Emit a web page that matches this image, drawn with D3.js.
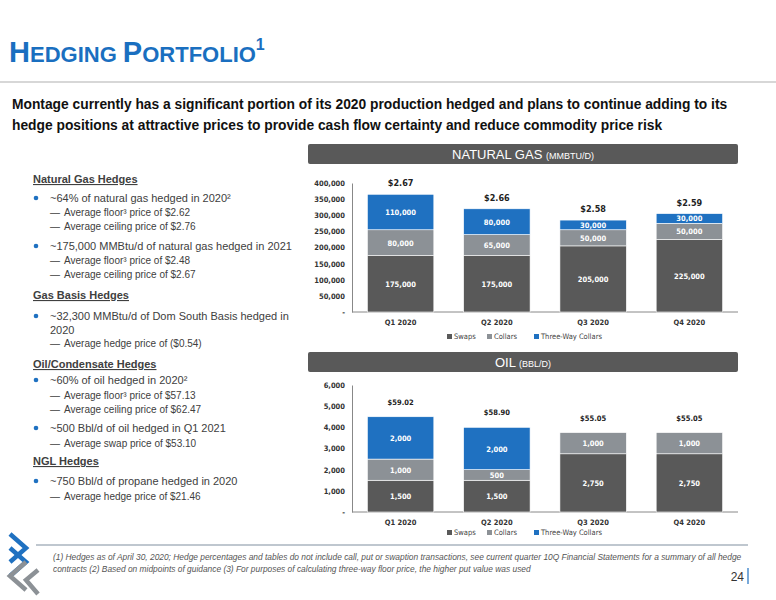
<!DOCTYPE html>
<html><head><meta charset="utf-8">
<script src="https://cdn.jsdelivr.net/npm/d3@7"></script>
<style>body{margin:0;background:#fff}svg{display:block;font-family:"Liberation Sans",Arial,sans-serif}</style>
</head><body><svg id="s" width="776" height="600"></svg>
<script>
const quarters=["Q1 2020","Q2 2020","Q3 2020","Q4 2020"];
const seriesNames=["Swaps","Collars","Three-Way Collars"];
const gasSwaps=[175000,175000,205000,225000];
const gasCollars=[80000,65000,50000,50000];
const gasThreeWay=[110000,80000,30000,30000];
const gasPrices=["$2.67","$2.66","$2.58","$2.59"];
const gasTicks=[0,50000,100000,150000,200000,250000,300000,350000,400000];
const oilSwaps=[1500,1500,2750,2750];
const oilCollars=[1000,500,1000,1000];
const oilThreeWay=[2000,2000,0,0];
const oilPrices=["$59.02","$58.90","$55.05","$55.05"];
const oilTicks=[0,1000,2000,3000,4000,5000,6000];
const colors=["#595959","#8c9196","#1f71c1"];

const svg=d3.select("#s");
const t=svg.append("text").attr("x",9).attr("y",62).attr("fill","#1a6fc0").attr("font-weight","bold");
[["H",29],["EDGING ",22],["P",29],["ORTFOLIO",22]].forEach(([s,f])=>t.append("tspan").attr("font-size",f).text(s));
t.append("tspan").attr("font-size",16).attr("dy",-12).text("1");
svg.append("line").attr("x1",0).attr("x2",776).attr("y1",82).attr("y2",82).attr("stroke","#b0b0b0").attr("stroke-width",1.2);
const sub=["Montage currently has a significant portion of its 2020 production hedged and plans to continue adding to its","hedge positions at attractive prices to provide cash flow certainty and reduce commodity price risk"];
sub.forEach((s,i)=>svg.append("text").attr("x",12).attr("y",109+i*21).attr("font-size",13.8).attr("font-weight","bold")
 .attr("fill","#111").text(s));

const items=[
 ["h","Natural Gas Hedges",183],["b","~64% of natural gas hedged in 2020²",202],["d","Average floor³ price of $2.62",216],["d","Average ceiling price of  $2.76",230],
 ["b","~175,000 MMBtu/d of natural gas hedged in 2021",250],["d","Average floor³ price of $2.48",264],["d","Average ceiling price of  $2.67",278],
 ["h","Gas Basis Hedges",299],["b","~32,300 MMBtu/d of Dom South Basis hedged in",320],["c","2020",334],["d","Average hedge price of ($0.54)",347],
 ["h","Oil/Condensate Hedges",368],["b","~60% of oil hedged in 2020²",384],["d","Average floor³ price of $57.13",399],["d","Average ceiling price of $62.47",413],
 ["b","~500 Bbl/d of oil hedged in Q1 2021",432],["d","Average swap price of $53.10",447],
 ["h","NGL Hedges",465],["b","~750 Bbl/d of propane hedged in 2020",485],["d","Average hedge price of $21.46",500]];
items.forEach(([k,s,y])=>{
 if(k==="h"){svg.append("text").attr("x",33).attr("y",y).attr("font-size",11).attr("font-weight","bold").attr("fill","#404040").attr("text-decoration","underline").text(s);}
 else if(k==="b"||k==="c"){ if(k==="b")svg.append("circle").attr("cx",36).attr("cy",y-4).attr("r",2.3).attr("fill","#1f71c1");
  svg.append("text").attr("x",50).attr("y",y).attr("font-size",11).attr("fill","#404040").text(s);}
 else {svg.append("text").attr("x",50).attr("y",y).attr("font-size",10).attr("fill","#404040").text("—");
  svg.append("text").attr("x",64).attr("y",y).attr("font-size",10).attr("fill","#404040").text(s);}
});

function panel(title,unit,y0){
 svg.append("rect").attr("x",308).attr("y",y0).attr("width",430).attr("height",20).attr("rx",2).attr("fill","#595959");
 const tx=svg.append("text").attr("x",523).attr("y",y0+15).attr("text-anchor","middle").attr("fill","#fff").attr("font-size",13);
 tx.append("tspan").text(title+" ");tx.append("tspan").attr("font-size",9).text(unit);
}
panel("NATURAL GAS","(MMBTU/D)",144);
panel("OIL","(BBL/D)",352);

function chart(sw,co,tw,prices,ticks,top,bottom,catY,legY,priceBold){
 const x=d3.scaleBand().domain(quarters).range([352,738]).paddingInner(0.31).paddingOuter(0.16);
 const y=d3.scaleLinear().domain([0,ticks[ticks.length-1]]).range([bottom,top]);
 const ax=svg.append("g").attr("transform","translate(352,0)").call(d3.axisLeft(y).tickValues(ticks).tickSize(0).tickPadding(7)
  .tickFormat(v=>v===0?"-":d3.format(",")(v)));
 ax.select(".domain").attr("stroke","#888");
 ax.selectAll("text").attr("font-size",7.5).attr("font-weight","bold").attr("fill","#333").attr("font-family","'DejaVu Sans Condensed',sans-serif");
 svg.append("line").attr("x1",352).attr("x2",738).attr("y1",bottom).attr("y2",bottom).attr("stroke","#888");
 const data=quarters.map((q,i)=>({q,Swaps:sw[i],Collars:co[i],"Three-Way Collars":tw[i]}));
 const st=d3.stack().keys(seriesNames)(data);
 st.forEach((layer,li)=>{
  layer.forEach((d,i)=>{
   const v=d[1]-d[0]; if(!v)return;
   svg.append("rect").attr("x",x(quarters[i])).attr("width",x.bandwidth()).attr("y",y(d[1])).attr("height",y(d[0])-y(d[1]))
    .attr("fill",colors[li]).attr("stroke","#fff").attr("stroke-width",0.6);
   svg.append("text").attr("x",x(quarters[i])+x.bandwidth()/2).attr("y",(y(d[0])+y(d[1]))/2+3).attr("text-anchor","middle")
    .attr("font-size",7.5).attr("font-weight","bold").attr("fill","#fff").attr("font-family","'DejaVu Sans Condensed',sans-serif").text(d3.format(",")(v));
  });
 });
 data.forEach((d,i)=>{
  const tot=sw[i]+co[i]+tw[i];
  svg.append("text").attr("x",x(d.q)+x.bandwidth()/2).attr("y",y(tot)-(priceBold?8:12)).attr("text-anchor","middle")
   .attr("font-size",priceBold?9:7.5).attr("font-weight","bold").attr("fill","#222").attr("font-family","'DejaVu Sans Condensed',sans-serif").text(prices[i]);
  svg.append("text").attr("x",x(d.q)+x.bandwidth()/2).attr("y",catY).attr("text-anchor","middle")
   .attr("font-size",7.5).attr("font-weight","bold").attr("fill","#333").attr("font-family","'DejaVu Sans Condensed',sans-serif").text(d.q);
 });
 const lx=[447,487,534];
 seriesNames.forEach((n,i)=>{
  svg.append("rect").attr("x",lx[i]).attr("y",legY-5).attr("width",5).attr("height",5).attr("fill",colors[i]);
  svg.append("text").attr("x",lx[i]+7).attr("y",legY).attr("font-size",7.5).attr("fill","#444").attr("font-family","'DejaVu Sans Condensed',sans-serif").text(n);
 });
}
chart(gasSwaps,gasCollars,gasThreeWay,gasPrices,gasTicks,183,312,325,339,true);
chart(oilSwaps,oilCollars,oilThreeWay,oilPrices,oilTicks,385,512,525,535,false);

svg.append("line").attr("x1",36).attr("x2",748).attr("y1",545).attr("y2",545).attr("stroke","#8090a0").attr("stroke-width",1.2);
["(1) Hedges as of April 30, 2020; Hedge percentages and tables do not include call, put or swaption transactions, see current quarter 10Q Financial Statements for a summary of all hedge",
 "contracts  (2) Based on midpoints of guidance (3) For purposes of calculating three-way floor price, the higher put value was used"]
 .forEach((s,i)=>svg.append("text").attr("x",53).attr("y",560+i*12).attr("font-size",8.4).attr("font-style","italic").attr("fill","#555").text(s));
svg.append("text").attr("x",744).attr("y",581).attr("text-anchor","end").attr("font-size",12).attr("fill","#333").text("24");
svg.append("line").attr("x1",748).attr("x2",748).attr("y1",568).attr("y2",584).attr("stroke","#1f71c1").attr("stroke-width",1.2);
const lg=svg.append("g");
[[0,"#1f71c1","M10,534 L26,548 L10,562"],[0,"#1f71c1","M10,548 L26,562 L10,576"],[0,"#8c9196","M26,562 L10,576 L26,590"],[0,"#8c9196","M38,570 L26,580 L38,594"]]
 .forEach(([dy,c,d])=>lg.append("path").attr("d",d).attr("fill","none").attr("stroke",c).attr("stroke-width",4.5));
</script></body></html>
